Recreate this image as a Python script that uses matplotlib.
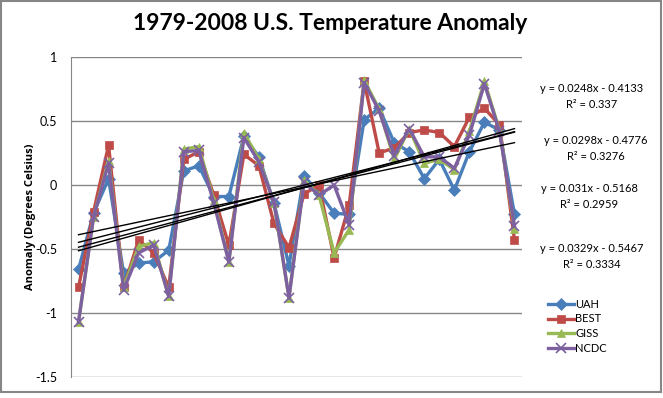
import numpy as np
import matplotlib
matplotlib.use("Agg")
import matplotlib.pyplot as plt
from matplotlib.patches import Rectangle

plt.rcParams['font.family'] = ['Lato', 'DejaVu Sans']

years = np.arange(1979, 2009)
x = np.arange(1, 31)

uah = [-0.66, -0.22, 0.05, -0.69, -0.61, -0.60, -0.51, 0.11, 0.15, -0.09,
       -0.09, 0.38, 0.22, -0.14, -0.63, 0.07, -0.06, -0.22, -0.23, 0.51,
       0.60, 0.33, 0.26, 0.05, 0.20, -0.04, 0.26, 0.49, 0.43, -0.23]
best = [-0.80, -0.21, 0.31, -0.80, -0.43, -0.53, -0.80, 0.20, 0.26, -0.08,
        -0.47, 0.24, 0.15, -0.30, -0.49, -0.07, 0.00, -0.57, -0.16, 0.81,
        0.25, 0.29, 0.41, 0.43, 0.41, 0.30, 0.53, 0.60, 0.47, -0.43]
giss = [-1.07, -0.25, 0.19, -0.80, -0.48, -0.45, -0.87, 0.28, 0.30, -0.12,
        -0.60, 0.41, 0.20, -0.14, -0.88, 0.04, -0.08, -0.53, -0.35, 0.82,
        0.59, 0.20, 0.44, 0.17, 0.20, 0.12, 0.42, 0.81, 0.43, -0.34]
ncdc = [-1.07, -0.25, 0.17, -0.82, -0.53, -0.47, -0.87, 0.26, 0.27, -0.14,
        -0.60, 0.37, 0.18, -0.13, -0.88, 0.02, -0.08, 0.00, -0.31, 0.80,
        0.58, 0.23, 0.44, 0.22, 0.22, 0.13, 0.39, 0.79, 0.42, -0.32]

names = ["UAH", "BEST", "GISS", "NCDC"]
colors = ["#4A7EBB", "#BE4B48", "#98B954", "#7D60A0"]
markers = ["D", "s", "^", "x"]

# trendline equations as displayed (y = a*x + b)
trend_slope = [0.0248, 0.0298, 0.031, 0.0329]
trend_icpt = [-0.4133, -0.4776, -0.5168, -0.5467]
trend_r2 = ["0.337", "0.3276", "0.2959", "0.3334"]
label_pos = [(592, 88), (596, 141), (589, 189), (592, 249)]

fig = plt.figure(figsize=(6.63, 3.98), dpi=100)
W, H = 663, 398
ax = fig.add_axes([71 / W, 1 - 377 / H, (522 - 71) / W, (377 - 57) / H])

for data, name, c, m in zip([uah, best, giss, ncdc], names, colors, markers):
    ax.plot(x, data, color=c, lw=2.4, marker=m, ms=6 if m != "x" else 7,
            mew=1.2 if m == "x" else 0.5, mec=c, label=name, zorder=3)

for a, b in zip(trend_slope, trend_icpt):
    xt = np.array([x[0], x[-1]])
    ax.plot(xt, a * xt + b, color="black", lw=1.0, zorder=4)

ax.set_xlim(0.5, 30.5)
ax.set_ylim(-1.5, 1)
ax.set_yticks([-1.5, -1, -0.5, 0, 0.5, 1])
ax.set_yticklabels(["-1.5", "-1", "-0.5", "0", "0.5", "1"])
ax.set_xticks([])
ax.yaxis.grid(True, color="#868686", lw=1)
ax.set_axisbelow(True)
for s in ["top", "right", "bottom"]:
    ax.spines[s].set_visible(False)
ax.spines["left"].set_color("#868686")
ax.tick_params(axis="y", length=0, pad=10, labelsize=9)
ax.set_ylabel("Anomaly (Degrees Celsius)", fontsize=8, fontweight="bold",
              family=["Open Sans", "DejaVu Sans"])
ax.yaxis.set_label_coords((36 - 71) / 451, 0.5)

fig.text(330 / W, 1 - 23 / H, "1979-2008 U.S. Temperature Anomaly",
         ha="center", va="center", fontsize=16.5, fontweight="bold")

for (px, py), a, b, r2 in zip(label_pos, trend_slope, trend_icpt, trend_r2):
    fig.text(px / W, 1 - py / H, f"y = {a:g}x - {abs(b):g}",
             ha="center", va="center", fontsize=8)
    fig.text(px / W, 1 - (py + 16) / H, f"R² = {r2}",
             ha="center", va="center", fontsize=8)

fig.legend(loc="upper left", bbox_to_anchor=(542 / W, 1 - 293 / H),
           frameon=False, fontsize=8, handlelength=2.4, labelspacing=0.35,
           handletextpad=0.1, borderpad=0)

fig.patches.append(Rectangle((1 / W, 1 - 392 / H), 660 / W, 391 / H,
                             transform=fig.transFigure, fill=False,
                             edgecolor="#868686", lw=1.5))

fig.savefig("out.png", dpi=100)
